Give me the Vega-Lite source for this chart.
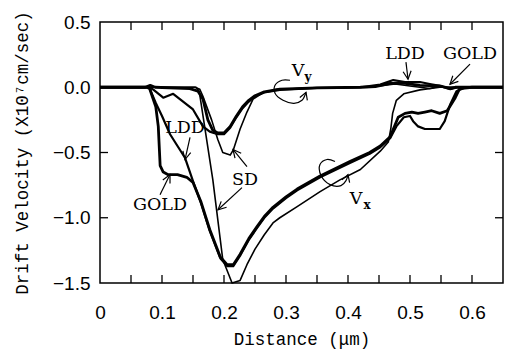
{
  "$schema": "https://vega.github.io/schema/vega-lite/v6.json",
  "width": 403,
  "height": 261,
  "autosize": "none",
  "padding": {"left": 100, "top": 22, "right": 9, "bottom": 72},
  "background": "white",
  "config": {
    "view": {"stroke": "black", "strokeWidth": 1.5},
    "axis": {
      "grid": false, "domain": false, "ticks": false,
      "labelColor": "black", "titleColor": "black", "labelFont": "Liberation Sans", "labelFontSize": 19,
      "titleFont": "Liberation Mono", "titleFontSize": 17.5, "titleFontWeight": "normal",
      "labelOverlap": false, "labelFlush": false, "labelBound": false
    }
  },
  "datasets": {
    "curves": [
      {"c":"VxGOLD","d":"GOLD","x":0,"y":0},{"c":"VxGOLD","d":"GOLD","x":0.075,"y":0},{"c":"VxGOLD","d":"GOLD","x":0.08,"y":-0.01},{"c":"VxGOLD","d":"GOLD","x":0.09,"y":-0.15},{"c":"VxGOLD","d":"GOLD","x":0.094,"y":-0.3},{"c":"VxGOLD","d":"GOLD","x":0.097,"y":-0.6},{"c":"VxGOLD","d":"GOLD","x":0.102,"y":-0.65},{"c":"VxGOLD","d":"GOLD","x":0.11,"y":-0.67},{"c":"VxGOLD","d":"GOLD","x":0.125,"y":-0.67},{"c":"VxGOLD","d":"GOLD","x":0.14,"y":-0.69},{"c":"VxGOLD","d":"GOLD","x":0.15,"y":-0.73},{"c":"VxGOLD","d":"GOLD","x":0.163,"y":-0.88},{"c":"VxGOLD","d":"GOLD","x":0.177,"y":-1.09},{"c":"VxGOLD","d":"GOLD","x":0.194,"y":-1.3},{"c":"VxGOLD","d":"GOLD","x":0.205,"y":-1.36},{"c":"VxGOLD","d":"GOLD","x":0.215,"y":-1.36},{"c":"VxGOLD","d":"GOLD","x":0.226,"y":-1.28},{"c":"VxGOLD","d":"GOLD","x":0.24,"y":-1.16},{"c":"VxGOLD","d":"GOLD","x":0.253,"y":-1.07},{"c":"VxGOLD","d":"GOLD","x":0.265,"y":-0.99},{"c":"VxGOLD","d":"GOLD","x":0.279,"y":-0.92},{"c":"VxGOLD","d":"GOLD","x":0.3,"y":-0.84},{"c":"VxGOLD","d":"GOLD","x":0.318,"y":-0.78},{"c":"VxGOLD","d":"GOLD","x":0.355,"y":-0.68},{"c":"VxGOLD","d":"GOLD","x":0.403,"y":-0.57},{"c":"VxGOLD","d":"GOLD","x":0.435,"y":-0.5},{"c":"VxGOLD","d":"GOLD","x":0.452,"y":-0.45},{"c":"VxGOLD","d":"GOLD","x":0.468,"y":-0.38},{"c":"VxGOLD","d":"GOLD","x":0.481,"y":-0.23},{"c":"VxGOLD","d":"GOLD","x":0.492,"y":-0.2},{"c":"VxGOLD","d":"GOLD","x":0.503,"y":-0.19},{"c":"VxGOLD","d":"GOLD","x":0.513,"y":-0.2},{"c":"VxGOLD","d":"GOLD","x":0.524,"y":-0.19},{"c":"VxGOLD","d":"GOLD","x":0.535,"y":-0.18},{"c":"VxGOLD","d":"GOLD","x":0.548,"y":-0.2},{"c":"VxGOLD","d":"GOLD","x":0.56,"y":-0.18},{"c":"VxGOLD","d":"GOLD","x":0.573,"y":-0.08},{"c":"VxGOLD","d":"GOLD","x":0.58,"y":-0.01},{"c":"VxGOLD","d":"GOLD","x":0.6,"y":0},{"c":"VxGOLD","d":"GOLD","x":0.65,"y":0},

      {"c":"VxLDD","d":"LDD","x":0,"y":0},{"c":"VxLDD","d":"LDD","x":0.075,"y":0},{"c":"VxLDD","d":"LDD","x":0.08,"y":-0.01},{"c":"VxLDD","d":"LDD","x":0.09,"y":-0.12},{"c":"VxLDD","d":"LDD","x":0.1,"y":-0.22},{"c":"VxLDD","d":"LDD","x":0.113,"y":-0.36},{"c":"VxLDD","d":"LDD","x":0.125,"y":-0.45},{"c":"VxLDD","d":"LDD","x":0.137,"y":-0.54},{"c":"VxLDD","d":"LDD","x":0.15,"y":-0.72},{"c":"VxLDD","d":"LDD","x":0.163,"y":-0.89},{"c":"VxLDD","d":"LDD","x":0.177,"y":-1.1},{"c":"VxLDD","d":"LDD","x":0.194,"y":-1.31},{"c":"VxLDD","d":"LDD","x":0.205,"y":-1.37},{"c":"VxLDD","d":"LDD","x":0.215,"y":-1.37},{"c":"VxLDD","d":"LDD","x":0.226,"y":-1.29},{"c":"VxLDD","d":"LDD","x":0.24,"y":-1.17},{"c":"VxLDD","d":"LDD","x":0.253,"y":-1.08},{"c":"VxLDD","d":"LDD","x":0.265,"y":-1.0},{"c":"VxLDD","d":"LDD","x":0.279,"y":-0.93},{"c":"VxLDD","d":"LDD","x":0.3,"y":-0.85},{"c":"VxLDD","d":"LDD","x":0.318,"y":-0.79},{"c":"VxLDD","d":"LDD","x":0.355,"y":-0.69},{"c":"VxLDD","d":"LDD","x":0.403,"y":-0.58},{"c":"VxLDD","d":"LDD","x":0.435,"y":-0.51},{"c":"VxLDD","d":"LDD","x":0.452,"y":-0.46},{"c":"VxLDD","d":"LDD","x":0.468,"y":-0.39},{"c":"VxLDD","d":"LDD","x":0.478,"y":-0.3},{"c":"VxLDD","d":"LDD","x":0.49,"y":-0.23},{"c":"VxLDD","d":"LDD","x":0.5,"y":-0.22},{"c":"VxLDD","d":"LDD","x":0.505,"y":-0.26},{"c":"VxLDD","d":"LDD","x":0.513,"y":-0.3},{"c":"VxLDD","d":"LDD","x":0.524,"y":-0.32},{"c":"VxLDD","d":"LDD","x":0.548,"y":-0.32},{"c":"VxLDD","d":"LDD","x":0.556,"y":-0.26},{"c":"VxLDD","d":"LDD","x":0.565,"y":-0.13},{"c":"VxLDD","d":"LDD","x":0.575,"y":-0.03},{"c":"VxLDD","d":"LDD","x":0.59,"y":0},{"c":"VxLDD","d":"LDD","x":0.65,"y":0},

      {"c":"VxSD","d":"SD","x":0,"y":0},{"c":"VxSD","d":"SD","x":0.155,"y":0},{"c":"VxSD","d":"SD","x":0.16,"y":-0.03},{"c":"VxSD","d":"SD","x":0.182,"y":-0.71},{"c":"VxSD","d":"SD","x":0.198,"y":-1.32},{"c":"VxSD","d":"SD","x":0.213,"y":-1.5},{"c":"VxSD","d":"SD","x":0.226,"y":-1.48},{"c":"VxSD","d":"SD","x":0.237,"y":-1.36},{"c":"VxSD","d":"SD","x":0.25,"y":-1.24},{"c":"VxSD","d":"SD","x":0.265,"y":-1.13},{"c":"VxSD","d":"SD","x":0.279,"y":-1.04},{"c":"VxSD","d":"SD","x":0.29,"y":-1.0},{"c":"VxSD","d":"SD","x":0.318,"y":-0.915},{"c":"VxSD","d":"SD","x":0.355,"y":-0.8},{"c":"VxSD","d":"SD","x":0.387,"y":-0.71},{"c":"VxSD","d":"SD","x":0.42,"y":-0.63},{"c":"VxSD","d":"SD","x":0.452,"y":-0.49},{"c":"VxSD","d":"SD","x":0.465,"y":-0.42},{"c":"VxSD","d":"SD","x":0.469,"y":-0.32},{"c":"VxSD","d":"SD","x":0.472,"y":-0.2},{"c":"VxSD","d":"SD","x":0.478,"y":-0.1},{"c":"VxSD","d":"SD","x":0.49,"y":-0.05},{"c":"VxSD","d":"SD","x":0.516,"y":-0.02},{"c":"VxSD","d":"SD","x":0.548,"y":0},{"c":"VxSD","d":"SD","x":0.65,"y":0},

      {"c":"VyGOLD","d":"GOLD","x":0,"y":0},{"c":"VyGOLD","d":"GOLD","x":0.073,"y":0},{"c":"VyGOLD","d":"GOLD","x":0.081,"y":0.015},{"c":"VyGOLD","d":"GOLD","x":0.089,"y":0},{"c":"VyGOLD","d":"GOLD","x":0.145,"y":-0.01},{"c":"VyGOLD","d":"GOLD","x":0.158,"y":-0.03},{"c":"VyGOLD","d":"GOLD","x":0.166,"y":-0.09},{"c":"VyGOLD","d":"GOLD","x":0.174,"y":-0.25},{"c":"VyGOLD","d":"GOLD","x":0.182,"y":-0.33},{"c":"VyGOLD","d":"GOLD","x":0.19,"y":-0.35},{"c":"VyGOLD","d":"GOLD","x":0.2,"y":-0.35},{"c":"VyGOLD","d":"GOLD","x":0.21,"y":-0.3},{"c":"VyGOLD","d":"GOLD","x":0.22,"y":-0.22},{"c":"VyGOLD","d":"GOLD","x":0.23,"y":-0.15},{"c":"VyGOLD","d":"GOLD","x":0.24,"y":-0.1},{"c":"VyGOLD","d":"GOLD","x":0.25,"y":-0.065},{"c":"VyGOLD","d":"GOLD","x":0.265,"y":-0.035},{"c":"VyGOLD","d":"GOLD","x":0.29,"y":-0.015},{"c":"VyGOLD","d":"GOLD","x":0.35,"y":-0.005},{"c":"VyGOLD","d":"GOLD","x":0.42,"y":0},{"c":"VyGOLD","d":"GOLD","x":0.444,"y":0.005},{"c":"VyGOLD","d":"GOLD","x":0.468,"y":0.03},{"c":"VyGOLD","d":"GOLD","x":0.492,"y":0.03},{"c":"VyGOLD","d":"GOLD","x":0.516,"y":0.015},{"c":"VyGOLD","d":"GOLD","x":0.548,"y":0.01},{"c":"VyGOLD","d":"GOLD","x":0.565,"y":-0.01},{"c":"VyGOLD","d":"GOLD","x":0.573,"y":0},{"c":"VyGOLD","d":"GOLD","x":0.65,"y":0},

      {"c":"VyLDD","d":"LDD","x":0,"y":0},{"c":"VyLDD","d":"LDD","x":0.078,"y":0},{"c":"VyLDD","d":"LDD","x":0.085,"y":-0.015},{"c":"VyLDD","d":"LDD","x":0.102,"y":-0.08},{"c":"VyLDD","d":"LDD","x":0.118,"y":-0.05},{"c":"VyLDD","d":"LDD","x":0.134,"y":-0.11},{"c":"VyLDD","d":"LDD","x":0.15,"y":-0.17},{"c":"VyLDD","d":"LDD","x":0.166,"y":-0.3},{"c":"VyLDD","d":"LDD","x":0.177,"y":-0.34},{"c":"VyLDD","d":"LDD","x":0.19,"y":-0.36},{"c":"VyLDD","d":"LDD","x":0.2,"y":-0.36},{"c":"VyLDD","d":"LDD","x":0.21,"y":-0.31},{"c":"VyLDD","d":"LDD","x":0.22,"y":-0.23},{"c":"VyLDD","d":"LDD","x":0.23,"y":-0.16},{"c":"VyLDD","d":"LDD","x":0.24,"y":-0.11},{"c":"VyLDD","d":"LDD","x":0.25,"y":-0.07},{"c":"VyLDD","d":"LDD","x":0.265,"y":-0.04},{"c":"VyLDD","d":"LDD","x":0.29,"y":-0.02},{"c":"VyLDD","d":"LDD","x":0.35,"y":-0.005},{"c":"VyLDD","d":"LDD","x":0.42,"y":0},{"c":"VyLDD","d":"LDD","x":0.452,"y":0.02},{"c":"VyLDD","d":"LDD","x":0.473,"y":0.055},{"c":"VyLDD","d":"LDD","x":0.492,"y":0.04},{"c":"VyLDD","d":"LDD","x":0.516,"y":0.04},{"c":"VyLDD","d":"LDD","x":0.532,"y":0.025},{"c":"VyLDD","d":"LDD","x":0.548,"y":0.01},{"c":"VyLDD","d":"LDD","x":0.565,"y":-0.015},{"c":"VyLDD","d":"LDD","x":0.577,"y":0},{"c":"VyLDD","d":"LDD","x":0.65,"y":0},

      {"c":"VySD","d":"SD","x":0,"y":0},{"c":"VySD","d":"SD","x":0.153,"y":0},{"c":"VySD","d":"SD","x":0.161,"y":-0.015},{"c":"VySD","d":"SD","x":0.166,"y":-0.07},{"c":"VySD","d":"SD","x":0.18,"y":-0.25},{"c":"VySD","d":"SD","x":0.19,"y":-0.4},{"c":"VySD","d":"SD","x":0.198,"y":-0.5},{"c":"VySD","d":"SD","x":0.21,"y":-0.52},{"c":"VySD","d":"SD","x":0.215,"y":-0.48},{"c":"VySD","d":"SD","x":0.226,"y":-0.32},{"c":"VySD","d":"SD","x":0.237,"y":-0.19},{"c":"VySD","d":"SD","x":0.247,"y":-0.09},{"c":"VySD","d":"SD","x":0.263,"y":-0.04},{"c":"VySD","d":"SD","x":0.285,"y":-0.015},{"c":"VySD","d":"SD","x":0.323,"y":-0.01},{"c":"VySD","d":"SD","x":0.435,"y":0},{"c":"VySD","d":"SD","x":0.46,"y":0.015},{"c":"VySD","d":"SD","x":0.476,"y":0.025},{"c":"VySD","d":"SD","x":0.5,"y":0.01},{"c":"VySD","d":"SD","x":0.532,"y":-0.01},{"c":"VySD","d":"SD","x":0.548,"y":0.01},{"c":"VySD","d":"SD","x":0.56,"y":0},{"c":"VySD","d":"SD","x":0.65,"y":0}
    ],
    "arrows": [
      {"id":"a1","i":0,"x":0.4935,"y":0.192},{"id":"a1","i":1,"x":0.4968,"y":0.0615},
      {"id":"h1","i":0,"x":0.4889,"y":0.1185},{"id":"h1","i":1,"x":0.4968,"y":0.0615},{"id":"h1","i":2,"x":0.5018,"y":0.126},
      {"id":"a2","i":0,"x":0.5968,"y":0.177},{"id":"a2","i":1,"x":0.5645,"y":0.023},
      {"id":"h2","i":0,"x":0.569,"y":0.0885},{"id":"h2","i":1,"x":0.5645,"y":0.023},{"id":"h2","i":2,"x":0.578,"y":0.0454},
      {"id":"a3","i":0,"x":0.1452,"y":-0.3846},{"id":"a3","i":1,"x":0.1371,"y":-0.5538},
      {"id":"h3","i":0,"x":0.1337,"y":-0.4869},{"id":"h3","i":1,"x":0.1371,"y":-0.5538},{"id":"h3","i":2,"x":0.1463,"y":-0.5008},
      {"id":"a4","i":0,"x":0.0968,"y":-0.8231},{"id":"a4","i":1,"x":0.1129,"y":-0.6692},
      {"id":"h4","i":0,"x":0.1129,"y":-0.7385},{"id":"h4","i":1,"x":0.1129,"y":-0.6692},{"id":"h4","i":2,"x":0.1013,"y":-0.7108},
      {"id":"a5","i":0,"x":0.2371,"y":-0.6077},{"id":"a5","i":1,"x":0.2145,"y":-0.4769},
      {"id":"h5","i":0,"x":0.2277,"y":-0.5054},{"id":"h5","i":1,"x":0.2145,"y":-0.4769},{"id":"h5","i":2,"x":0.2177,"y":-0.5438},
      {"id":"a6","i":0,"x":0.229,"y":-0.7692},{"id":"a6","i":1,"x":0.1903,"y":-0.9385},
      {"id":"h6","i":0,"x":0.1955,"y":-0.8746},{"id":"h6","i":1,"x":0.1903,"y":-0.9385},{"id":"h6","i":2,"x":0.2042,"y":-0.9192},
      {"id":"hy","i":0,"x":0.3344,"y":-0.1},{"id":"hy","i":1,"x":0.3323,"y":-0.0385},{"id":"hy","i":2,"x":0.3223,"y":-0.0785},
      {"id":"hx","i":0,"x":0.4026,"y":-0.73},{"id":"hx","i":1,"x":0.4,"y":-0.6692},{"id":"hx","i":2,"x":0.3903,"y":-0.71}
    ],
    "loops": [
      {"id":"ly","i":0,"x":0.3065,"y":0.0538},{"id":"ly","i":1,"x":0.2935,"y":0.0538},{"id":"ly","i":2,"x":0.2823,"y":0.0154},{"id":"ly","i":3,"x":0.2823,"y":-0.0462},{"id":"ly","i":4,"x":0.2952,"y":-0.1},{"id":"ly","i":5,"x":0.3129,"y":-0.1231},{"id":"ly","i":6,"x":0.3258,"y":-0.1},{"id":"ly","i":7,"x":0.3323,"y":-0.0385},
      {"id":"lx","i":0,"x":0.379,"y":-0.5692},{"id":"lx","i":1,"x":0.3661,"y":-0.5538},{"id":"lx","i":2,"x":0.3548,"y":-0.5923},{"id":"lx","i":3,"x":0.3565,"y":-0.6769},{"id":"lx","i":4,"x":0.371,"y":-0.7462},{"id":"lx","i":5,"x":0.3887,"y":-0.7538},{"id":"lx","i":6,"x":0.3968,"y":-0.7154},{"id":"lx","i":7,"x":0.4,"y":-0.6692}
    ],
    "labels": [
      {"t":"LDD","x":0.4919,"y":0.2538},
      {"t":"GOLD","x":0.5968,"y":0.2538},
      {"t":"LDD","x":0.1371,"y":-0.3154},
      {"t":"GOLD","x":0.0968,"y":-0.9},
      {"t":"SD","x":0.2339,"y":-0.7077},
      {"t":"V","x":0.3194,"y":0.1231},
      {"t":"V","x":0.4129,"y":-0.8538}
    ],
    "subs": [
      {"t":"y","x":0.3355,"y":0.0769},
      {"t":"x","x":0.4306,"y":-0.9}
    ],
    "xticks": [{"v":0.05},{"v":0.1},{"v":0.15},{"v":0.2},{"v":0.25},{"v":0.3},{"v":0.35},{"v":0.4},{"v":0.45},{"v":0.5},{"v":0.55},{"v":0.6}],
    "yticks": [{"v":-1},{"v":-0.5},{"v":0}]
  },
  "layer": [
    {
      "data": {"name": "xticks"},
      "mark": {"type": "rule", "color": "black", "strokeWidth": 1.3},
      "encoding": {
        "x": {"field": "v", "type": "quantitative", "scale": {"domain": [0, 0.65], "nice": false, "zero": false},
              "axis": {"orient": "bottom", "title": "Distance (μm)", "values": [0,0.1,0.2,0.3,0.4,0.5,0.6],
                       "labelExpr": "datum.value == 0 ? '0' : format(datum.value, '.1f')",
                       "labelPadding": 20, "titlePadding": 8}},
        "y": {"datum": -1.5, "type": "quantitative", "scale": {"domain": [-1.5, 0.5], "nice": false, "zero": false},
              "axis": {"orient": "left", "title": "Drift Velocity (X10⁷cm/sec)", "values": [-1.5,-1,-0.5,0,0.5], "format": ".1f",
                       "labelPadding": 10, "titlePadding": 21}},
        "y2": {"datum": -1.4385}
      }
    },
    {
      "data": {"name": "xticks"},
      "mark": {"type": "rule", "color": "black", "strokeWidth": 1.3},
      "encoding": {
        "x": {"field": "v", "type": "quantitative", "axis": null},
        "y": {"datum": 0.5, "type": "quantitative", "axis": null},
        "y2": {"datum": 0.4385}
      }
    },
    {
      "data": {"name": "yticks"},
      "mark": {"type": "rule", "color": "black", "strokeWidth": 1.3},
      "encoding": {
        "y": {"field": "v", "type": "quantitative", "axis": null},
        "x": {"datum": 0, "type": "quantitative", "axis": null},
        "x2": {"datum": 0.0129}
      }
    },
    {
      "data": {"name": "yticks"},
      "mark": {"type": "rule", "color": "black", "strokeWidth": 1.3},
      "encoding": {
        "y": {"field": "v", "type": "quantitative", "axis": null},
        "x": {"datum": 0.65, "type": "quantitative", "axis": null},
        "x2": {"datum": 0.6371}
      }
    },
    {
      "data": {"name": "curves"},
      "mark": {"type": "line", "color": "black", "strokeJoin": "round"},
      "encoding": {
        "x": {"field": "x", "type": "quantitative", "axis": null},
        "y": {"field": "y", "type": "quantitative", "axis": null},
        "detail": {"field": "c", "type": "nominal"},
        "strokeWidth": {"field": "d", "type": "nominal", "scale": {"domain": ["GOLD","LDD","SD"], "range": [2.8, 1.6, 1.0]}, "legend": null}
      }
    },
    {
      "data": {"name": "arrows"},
      "mark": {"type": "line", "color": "black", "strokeWidth": 1.2},
      "encoding": {
        "x": {"field": "x", "type": "quantitative", "axis": null},
        "y": {"field": "y", "type": "quantitative", "axis": null},
        "detail": {"field": "id", "type": "nominal"},
        "order": {"field": "i", "type": "quantitative"}
      }
    },
    {
      "data": {"name": "loops"},
      "mark": {"type": "line", "color": "black", "strokeWidth": 1.2, "interpolate": "catmull-rom"},
      "encoding": {
        "x": {"field": "x", "type": "quantitative", "axis": null},
        "y": {"field": "y", "type": "quantitative", "axis": null},
        "detail": {"field": "id", "type": "nominal"},
        "order": {"field": "i", "type": "quantitative"}
      }
    },
    {
      "data": {"name": "labels"},
      "mark": {"type": "text", "font": "DejaVu Serif", "fontSize": 17.5, "color": "black", "align": "center", "baseline": "middle"},
      "encoding": {
        "x": {"field": "x", "type": "quantitative", "axis": null},
        "y": {"field": "y", "type": "quantitative", "axis": null},
        "text": {"field": "t"}
      }
    },
    {
      "data": {"name": "subs"},
      "mark": {"type": "text", "font": "DejaVu Serif", "fontSize": 12, "fontWeight": "bold", "color": "black", "align": "center", "baseline": "middle"},
      "encoding": {
        "x": {"field": "x", "type": "quantitative", "axis": null},
        "y": {"field": "y", "type": "quantitative", "axis": null},
        "text": {"field": "t"}
      }
    }
  ],
  "resolve": {"axis": {"x": "independent", "y": "independent"}}
}
